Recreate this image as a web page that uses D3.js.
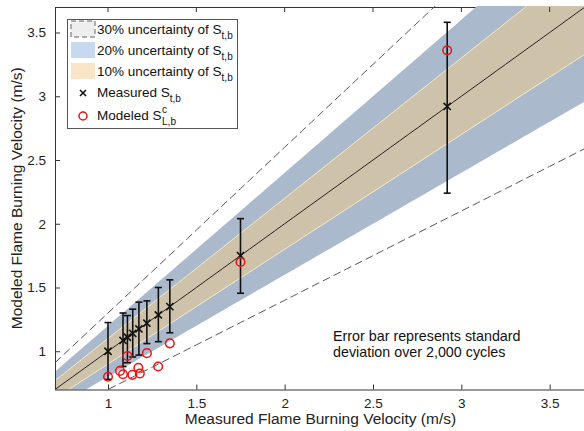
<!DOCTYPE html>
<html>
<head>
<meta charset="utf-8">
<script src="https://cdn.jsdelivr.net/npm/d3@7"></script>
<style>
  html, body { margin: 0; padding: 0; background: #fff; }
  svg { display: block; font-family: "Liberation Sans", Arial, Helvetica, sans-serif; }
</style>
</head>
<body>
<svg id="chart" width="584" height="431"></svg>
<script>
// Measured turbulent burning velocity with standard-deviation error bars
const measuredX   = [1.00, 1.085, 1.11, 1.14, 1.175, 1.22, 1.285, 1.35, 1.75, 2.92];
const measuredLow = [0.78, 0.88, 0.91, 0.955, 0.97, 1.06, 1.075, 1.145, 1.455, 2.24];
const measuredHigh= [1.225, 1.30, 1.28, 1.33, 1.385, 1.395, 1.50, 1.56, 2.04, 3.58];

// Modeled burning velocity against the measured one
const modeledX = [1.00, 1.068, 1.085, 1.11, 1.138, 1.172, 1.18, 1.22, 1.284, 1.35, 1.75, 2.92];
const modeledY = [0.80, 0.846, 0.82, 0.963, 0.815, 0.87, 0.826, 0.985, 0.88, 1.062, 1.70, 3.36];

// Uncertainty bands around the parity line
const bandLevels = [0.2, 0.1];
const dashLevel  = 0.3;
const bandFill   = {0.2: "#aab9cc", 0.1: "#cfc2ab"};

const xTicks = [1, 1.5, 2, 2.5, 3, 3.5];
const yTicks = [1, 1.5, 2, 2.5, 3, 3.5];
const domain = [0.7, 3.7];

const svg = d3.select("#chart");
const L = 55, R = 585, T = 7, B = 389.5;
const x = d3.scaleLinear().domain(domain).range([L, R]);
const y = d3.scaleLinear().domain(domain).range([B, T]);

svg.append("defs").append("clipPath").attr("id", "plotClip")
  .append("rect").attr("x", L).attr("y", T - 1).attr("width", R - L).attr("height", B - T + 1);

// top border sits under the bands
svg.append("line").attr("x1", L).attr("x2", R).attr("y1", T + 0.5).attr("y2", T + 0.5)
  .attr("stroke", "#333").attr("stroke-width", 1);

const plot = svg.append("g").attr("clip-path", "url(#plotClip)");
const xs = d3.range(domain[0], domain[1] + 0.0001, 0.05);

bandLevels.forEach(p => {
  const area = d3.area()
    .x(d => x(d))
    .y0(d => y(d * (1 - p)))
    .y1(d => y(d * (1 + p)));
  plot.append("path").datum(xs).attr("d", area).attr("fill", bandFill[p]);
});
// pale edges of the 10% band
[1 - 0.1, 1 + 0.1].forEach(f => {
  plot.append("path").datum(xs)
    .attr("d", d3.line().x(d => x(d)).y(d => y(d * f)))
    .attr("fill", "none").attr("stroke", "#f3ebc4").attr("stroke-width", 1);
});
// 30% dashed limits
[1 - dashLevel, 1 + dashLevel].forEach(f => {
  plot.append("path").datum(xs)
    .attr("d", d3.line().x(d => x(d)).y(d => y(d * f)))
    .attr("fill", "none").attr("stroke", "#555").attr("stroke-width", 1)
    .attr("stroke-dasharray", "8,4");
});
// parity line
plot.append("path").datum(xs)
  .attr("d", d3.line().x(d => x(d)).y(d => y(d)))
  .attr("fill", "none").attr("stroke", "#111").attr("stroke-width", 0.9);

// axes (left and bottom), ticks pointing inward
const xAxis = d3.axisBottom(x).tickValues(xTicks).tickSize(-5).tickPadding(9)
  .tickFormat(d3.format("~g"));
const yAxis = d3.axisLeft(y).tickValues(yTicks).tickSize(-5).tickPadding(9)
  .tickFormat(d3.format("~g"));
const gx = svg.append("g").attr("transform", `translate(0,${B})`).call(xAxis);
const gy = svg.append("g").attr("transform", `translate(${L},0)`).call(yAxis);
[gx, gy].forEach(g => {
  g.select(".domain").attr("stroke", "#333");
  g.selectAll(".tick line").attr("stroke", "#333");
  g.selectAll(".tick text").attr("fill", "#222").style("font-size", "13.5px")
    .style("font-family", "'Liberation Sans', Arial, sans-serif");
});
gx.select(".domain").attr("d", `M${L},0.5H${R}`);
gy.select(".domain").attr("d", `M0.5,${B}V${T}`);
// ticks along the top edge
svg.append("g").selectAll("line").data(xTicks).join("line")
  .attr("x1", d => x(d)).attr("x2", d => x(d)).attr("y1", T).attr("y2", T + 5)
  .attr("stroke", "#333");

// error bars
const eb = svg.append("g");
measuredX.forEach((v, i) => {
  const cx = x(v);
  eb.append("line").attr("x1", cx).attr("x2", cx)
    .attr("y1", y(measuredLow[i])).attr("y2", y(measuredHigh[i]))
    .attr("stroke", "#111").attr("stroke-width", 1.6);
  [measuredLow[i], measuredHigh[i]].forEach(e => {
    eb.append("line").attr("x1", cx - 3.5).attr("x2", cx + 3.5)
      .attr("y1", y(e)).attr("y2", y(e)).attr("stroke", "#111").attr("stroke-width", 1.6);
  });
});

// measured cross markers
function cross(g, cx, cy, s) {
  g.append("path").attr("d", `M${cx - s},${cy - s}L${cx + s},${cy + s}M${cx - s},${cy + s}L${cx + s},${cy - s}`)
    .attr("stroke", "#111").attr("stroke-width", 1.6).attr("fill", "none");
}
const mk = svg.append("g");
measuredX.forEach(v => cross(mk, x(v), y(v), 3.6));

// modeled circles
svg.append("g").selectAll("circle").data(modeledX).join("circle")
  .attr("cx", d => x(d)).attr("cy", (d, i) => y(modeledY[i])).attr("r", 4.3)
  .attr("fill", "none").attr("stroke", "#f01010").attr("stroke-width", 1.5);

// axis titles
svg.append("text").attr("x", (L + 584) / 2 + 1).attr("y", 424)
  .attr("text-anchor", "middle").style("font-size", "15.5px").attr("fill", "#222")
  .text("Measured Flame Burning Velocity (m/s)");
svg.append("text").attr("transform", `translate(22,${(T + B) / 2}) rotate(-90)`)
  .attr("text-anchor", "middle").style("font-size", "15.5px").attr("fill", "#222")
  .text("Modeled Flame Burning Velocity (m/s)");

// annotation
const note = svg.append("text").attr("x", 333).attr("fill", "#111").style("font-size", "14.3px");
note.append("tspan").attr("x", 333).attr("y", 341).text("Error bar represents standard");
note.append("tspan").attr("x", 333).attr("y", 357).text("deviation over 2,000 cycles");

// legend
const legend = svg.append("g");
legend.append("rect").attr("x", 67.5).attr("y", 19.5).attr("width", 170).attr("height", 109)
  .attr("fill", "#fff").attr("stroke", "#555").attr("stroke-width", 1);

const legendRows = [
  {kind: "dash", fill: "#eeeeee", main: "30% uncertainty of S", sub: "t,b"},
  {kind: "patch", fill: "#c6d9f0", main: "20% uncertainty of S", sub: "t,b"},
  {kind: "patch", fill: "#fbe5c8", main: "10% uncertainty of S", sub: "t,b"},
  {kind: "cross", main: "Measured S", sub: "t,b"},
  {kind: "circle", main: "Modeled S", sub: "L,b", sup: "c"}
];
const rowY = [29, 50, 71, 92, 115];
legendRows.forEach((r, i) => {
  const cy = rowY[i];
  if (r.kind === "dash" || r.kind === "patch") {
    legend.append("rect").attr("x", 71).attr("y", cy - 8).attr("width", 24).attr("height", 16)
      .attr("fill", r.fill)
      .attr("stroke", r.kind === "dash" ? "#666" : "none")
      .attr("stroke-dasharray", r.kind === "dash" ? "5,3" : null);
  } else if (r.kind === "cross") {
    cross(legend, 83, cy + 1, 3);
  } else {
    legend.append("circle").attr("cx", 83).attr("cy", cy + 1).attr("r", 4)
      .attr("fill", "none").attr("stroke", "#f01010").attr("stroke-width", 1.5);
  }
  const t = legend.append("text").attr("x", 97).attr("y", cy + 4.5).attr("fill", "#111")
    .style("font-size", "13.5px");
  t.append("tspan").text(r.main);
  if (r.sup) {
    const base = t.node().getComputedTextLength();
    legend.append("text").attr("x", 97 + base + 0.5).attr("y", cy - 2).attr("fill", "#111")
      .style("font-size", "10px").text(r.sup);
    legend.append("text").attr("x", 97 + base + 0.5).attr("y", cy + 10).attr("fill", "#111")
      .style("font-size", "10px").text(r.sub);
  } else {
    t.append("tspan").attr("dy", 5).style("font-size", "10px").text(r.sub);
  }
});
</script>
</body>
</html>
